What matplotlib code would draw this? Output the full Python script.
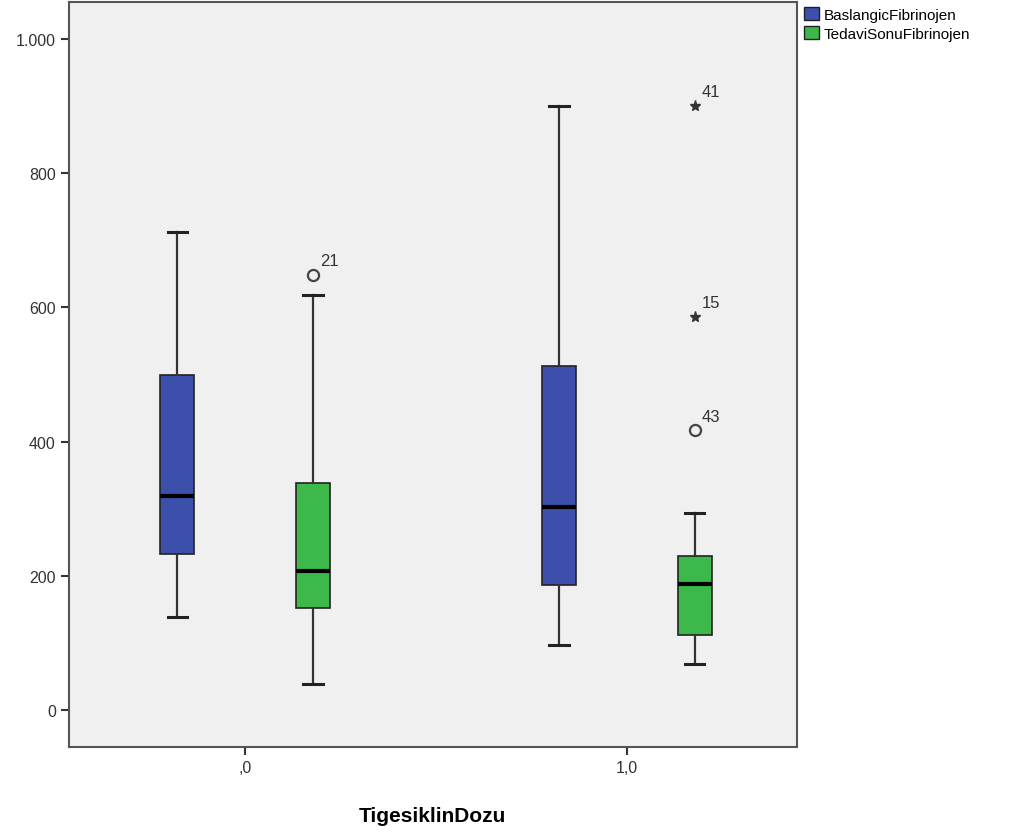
import numpy as np
import matplotlib
matplotlib.use("Agg")
import matplotlib.pyplot as plt
from matplotlib.patches import Patch

plt.rcParams["font.family"] = ["Liberation Sans", "DejaVu Sans"]

# Data
doses = [",0", "1,0"]
series = ["BaslangicFibrinojen", "TedaviSonuFibrinojen"]
colors = ["#3b4fab", "#3cb94a"]

# [whislo, q1, median, q3, whishi] per dose
baslangic = [[139, 232, 319, 500, 712],
             [97, 186, 303, 513, 900]]
tedavi = [[39, 152, 207, 338, 618],
          [69, 112, 188, 230, 294]]

# outliers: dose index, series index, value, case label, kind
out_dose = [0, 1, 1, 1]
out_series = [1, 1, 1, 1]
out_value = [648, 900, 586, 417]
out_label = ["21", "41", "15", "43"]
out_kind = ["o", "*", "*", "o"]

fig = plt.figure(figsize=(10.1, 8.37), dpi=100)
ax = fig.add_axes([0.0683, 0.1063, 0.7207, 0.8901])
ax.set_facecolor("#f0f0f0")

offset = 0.178
width = 0.09
for s, data in enumerate([baslangic, tedavi]):
    stats = []
    for d in range(len(doses)):
        lo, q1, med, q3, hi = data[d]
        stats.append(dict(whislo=lo, q1=q1, med=med, q3=q3, whishi=hi, fliers=[]))
    pos = np.arange(len(doses)) + (offset if s else -offset)
    ax.bxp(stats, positions=pos, widths=width, patch_artist=True,
           showfliers=False, capwidths=0.05,
           boxprops=dict(facecolor=colors[s], edgecolor="#222222", linewidth=1.2),
           medianprops=dict(color="black", linewidth=3),
           whiskerprops=dict(color="#333333", linewidth=1.6),
           capprops=dict(color="#222222", linewidth=2.2))

for d, s, v, lab, k in zip(out_dose, out_series, out_value, out_label, out_kind):
    x = d + (offset if s else -offset)
    if k == "o":
        ax.plot(x, v, "o", mfc="none", mec="#444444", ms=8, mew=1.6)
    else:
        ax.plot(x, v, "*", color="#333333", ms=8)
    ax.annotate(lab, (x, v), xytext=(5, 7), textcoords="offset points",
                fontsize=12, color="#333333")

ax.set_xlim(-0.461, 1.445)
ax.set_ylim(-55, 1055)
ax.set_xticks(range(len(doses)))
ax.set_xticklabels(doses)
yt = [0, 200, 400, 600, 800, 1000]
ax.set_yticks(yt)
ax.set_yticklabels([f"{v:,}".replace(",", ".") for v in yt])
ax.tick_params(labelsize=11.5, colors="#333333", length=6, width=1.5)
ax.set_xlabel("TigesiklinDozu", fontsize=15, fontweight="bold", labelpad=22)
for sp in ax.spines.values():
    sp.set_color("#555555")
    sp.set_linewidth(1.5)

handles = [Patch(facecolor=c, edgecolor="#222222", label=l) for c, l in zip(colors, series)]
fig.legend(handles=handles, loc="upper left", bbox_to_anchor=(0.79, 0.998),
           frameon=False, fontsize=11, handlelength=1.0, handleheight=1.0,
           handletextpad=0.3, labelspacing=0.25, borderaxespad=0)

plt.savefig("out.png", dpi=100)
